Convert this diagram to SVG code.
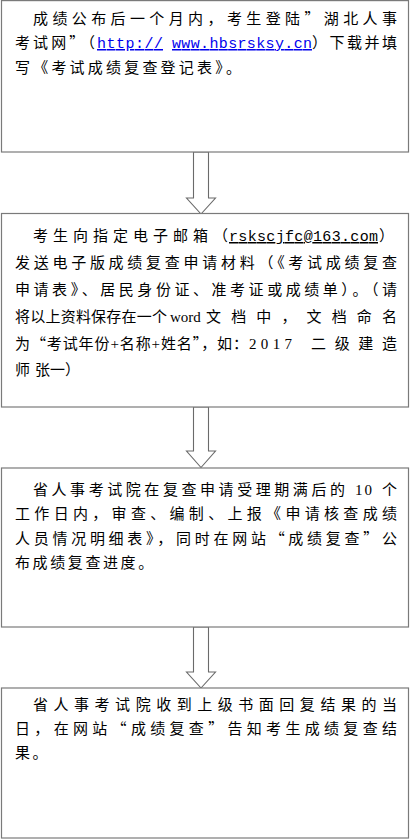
<svg xmlns="http://www.w3.org/2000/svg" width="413" height="840" viewBox="0 0 413 840">
<style>
.box{fill:#fff;stroke:#7a7a7a;stroke-width:1.2}
.arr{fill:#fff;stroke:#6a6a6a;stroke-width:1.1;stroke-linejoin:miter}
text{font-family:"Noto Sans CJK SC","Liberation Serif",sans-serif;font-size:15px;fill:#000}
.lat{font-family:"Liberation Serif","Noto Sans CJK SC",serif}
.mono{font-family:"Liberation Mono","Noto Sans CJK SC",monospace}
.link{fill:#0000ee;text-decoration:underline}
.ul{text-decoration:underline}
.last{letter-spacing:2.6px}
</style>
<rect width="413" height="840" fill="#fff"/>
<g id="connectors">
<path class="arr" d="M193.5,152 H208.5 V198 H215.5 L201,214 L186.5,198 H193.5 Z"/>
<path class="arr" d="M193.5,407 H208.5 V451 H215.5 L201,467.5 L186.5,451 H193.5 Z"/>
<path class="arr" d="M193.5,627 H208.5 V672 H215.5 L201,688 L186.5,672 H193.5 Z"/>
</g>
<g id="node1">
<rect class="box" x="1.5" y="0.6" width="407" height="151.4"/>
<text x="33" y="24" textLength="364" lengthAdjust="spacing">成绩公布后一个月内，考生登陆”湖北人事</text>
<text x="15" y="48" textLength="80" lengthAdjust="spacing">考试网”（</text>
<text x="97" y="48" class="mono link" textLength="66" lengthAdjust="spacing">http://</text>
<text x="172" y="48" class="mono link" textLength="140" lengthAdjust="spacing">www.hbsrsksy.cn</text>
<text x="312" y="48" textLength="85" lengthAdjust="spacing">）下载并填</text>
<text x="15" y="73" class="last" style="letter-spacing:3.2px">写《考试成绩复查登记表》。</text>
</g>
<g id="node2">
<rect class="box" x="1.5" y="213.5" width="407" height="193.5"/>
<text x="33" y="241" textLength="195" lengthAdjust="spacing">考生向指定电子邮箱（</text>
<text x="229" y="241" class="mono ul" textLength="149" lengthAdjust="spacing">rskscjfc@163.com</text>
<text x="379" y="241">）</text>
<text x="15" y="268" textLength="382" lengthAdjust="spacing">发送电子版成绩复查申请材料（《考试成绩复查</text>
<text x="15" y="295" textLength="382" lengthAdjust="spacing">申请表》、居民身份证、准考证或成绩单）。（请</text>
<text x="15" y="322" textLength="152" lengthAdjust="spacing">将以上资料保存在一个</text>
<text x="170" y="322" class="lat">word</text>
<text x="206" y="322" textLength="191" lengthAdjust="spacing">文档中，文档命名</text>
<text x="15" y="349" textLength="233" lengthAdjust="spacing">为“考试年份<tspan class="lat">+</tspan>名称<tspan class="lat">+</tspan>姓名”，如：</text>
<text x="249" y="349" class="lat" textLength="43" lengthAdjust="spacing">2017</text>
<text x="311" y="349" textLength="86" lengthAdjust="spacing">二级建造</text>
<text x="15 30 35 50 65" y="375">师 张一）</text>
</g>
<g id="node3">
<rect class="box" x="1.5" y="468" width="407" height="159"/>
<text x="33" y="495" textLength="312" lengthAdjust="spacing">省人事考试院在复查申请受理期满后的</text>
<text x="355" y="495" class="lat" textLength="17" lengthAdjust="spacing">10</text>
<text x="382" y="495">个</text>
<text x="15" y="519" textLength="382" lengthAdjust="spacing">工作日内，审查、编制、上报《申请核查成绩</text>
<text x="15" y="544" textLength="382" lengthAdjust="spacing">人员情况明细表》，同时在网站“成绩复查”公</text>
<text x="15" y="568" class="last">布成绩复查进度。</text>
</g>
<g id="node4">
<rect class="box" x="1.5" y="688" width="407" height="150"/>
<text x="33" y="710" textLength="364" lengthAdjust="spacing">省人事考试院收到上级书面回复结果的当</text>
<text x="15" y="734" textLength="382" lengthAdjust="spacing">日，在网站“成绩复查”告知考生成绩复查结</text>
<text x="15" y="758" class="last">果。</text>
</g>
</svg>
